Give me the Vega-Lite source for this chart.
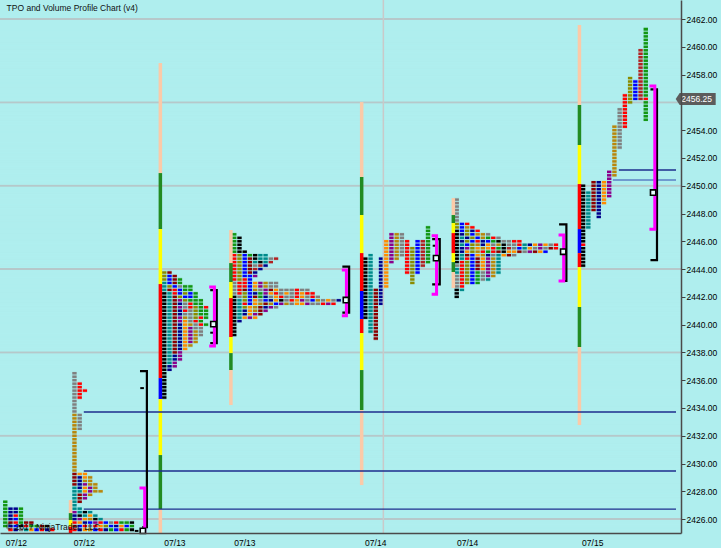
{
"$schema":"https://vega.github.io/schema/vega-lite/v6.json",
"width":681,"height":533,
"autosize":{"type":"none"},
"padding":{"left":0,"top":0,"right":40,"bottom":15},
"background":"#afeeee",
"config":{"view":{"stroke":null,"fill":"#afeeee"},"font":"Liberation Sans"},
"encoding":{"y":{"field":"y","type":"quantitative","scale":{"domain":[2425,2463.37],"nice":false,"zero":false},
  "axis":{"orient":"right","title":null,"values":[2426,2428,2430,2432,2434,2436,2438,2440,2442,2444,2446,2448,2450,2452,2454,2458,2460,2462],"format":".2f","grid":false,"labelFontSize":8.5,"labelFont":"Liberation Sans","labelColor":"#000000","tickSize":4,"tickColor":"#404040","tickWidth":1,"domainColor":"#4a4a4a","domainWidth":1.5,"labelPadding":1,"labelOverlap":false,"labelBound":false,"labelFlush":false,"zindex":1}}},
"datasets":{
"grid":[{"y":2426},{"y":2432},{"y":2438},{"y":2444},{"y":2450},{"y":2456},{"y":2462}],
"cells":[
{"x":0.05,"y":2427.375,"b":2425.375,"c":"e"},
{"x":1.05,"y":2426.875,"b":2425.875,"c":"n"},{"x":1.05,"y":2425.875,"b":2425.625,"c":"m"},{"x":1.05,"y":2425.625,"b":2425.375,"c":"n"},{"x":1.05,"y":2425.375,"b":2425.125,"c":"r"},
{"x":2.05,"y":2426.875,"b":2426.375,"c":"n"},{"x":2.05,"y":2426.375,"b":2426.125,"c":"r"},{"x":2.05,"y":2426.125,"b":2425.875,"c":"b"},{"x":2.05,"y":2425.875,"b":2425.625,"c":"r"},{"x":2.05,"y":2425.625,"b":2425.375,"c":"b"},{"x":2.05,"y":2425.375,"b":2425.125,"c":"n"},
{"x":3.05,"y":2426.875,"b":2425.625,"c":"e"},{"x":3.05,"y":2425.625,"b":2425.375,"c":"k"},{"x":3.05,"y":2425.375,"b":2425.125,"c":"y"},
{"x":4.05,"y":2425.875,"b":2425.625,"c":"m"},{"x":4.05,"y":2425.625,"b":2425.375,"c":"r"},{"x":4.05,"y":2425.375,"b":2425.125,"c":"t"},
{"x":5.05,"y":2425.875,"b":2425.625,"c":"m"},{"x":5.05,"y":2425.625,"b":2425.375,"c":"e"},{"x":5.05,"y":2425.375,"b":2425.125,"c":"o"},
{"x":6.05,"y":2425.625,"b":2425.375,"c":"e"},{"x":6.05,"y":2425.375,"b":2425.125,"c":"b"},
{"x":7.05,"y":2425.625,"b":2425.375,"c":"m"},{"x":7.05,"y":2425.375,"b":2425.125,"c":"r"},
{"x":8.05,"y":2425.625,"b":2425.375,"c":"k"},{"x":8.05,"y":2425.375,"b":2425.125,"c":"n"},
{"x":9.05,"y":2425.375,"b":2425.125,"c":"r"},

{"x":13.3,"y":2436.625,"b":2433.625,"c":"y"},{"x":13.3,"y":2433.625,"b":2429.375,"c":"g"},{"x":13.3,"y":2429.375,"b":2428.375,"c":"m"},{"x":13.3,"y":2428.375,"b":2426.625,"c":"t"},{"x":13.3,"y":2426.625,"b":2426.375,"c":"p"},{"x":13.3,"y":2426.375,"b":2425.875,"c":"n"},{"x":13.3,"y":2425.875,"b":2425.625,"c":"r"},{"x":13.3,"y":2425.625,"b":2425.375,"c":"m"},{"x":13.3,"y":2425.375,"b":2425.125,"c":"r"},
{"x":14.3,"y":2435.875,"b":2434.625,"c":"r"},{"x":14.3,"y":2433.625,"b":2432.375,"c":"y"},{"x":14.3,"y":2429.375,"b":2429.125,"c":"o"},{"x":14.3,"y":2429.125,"b":2428.125,"c":"n"},{"x":14.3,"y":2428.125,"b":2427.875,"c":"t"},{"x":14.3,"y":2427.875,"b":2427.125,"c":"m"},{"x":14.3,"y":2426.875,"b":2426.375,"c":"t"},{"x":14.3,"y":2426.375,"b":2426.125,"c":"k"},{"x":14.3,"y":2426.125,"b":2425.875,"c":"p"},{"x":14.3,"y":2425.875,"b":2425.625,"c":"o"},{"x":14.3,"y":2425.625,"b":2425.375,"c":"b"},{"x":14.3,"y":2425.375,"b":2425.125,"c":"n"},
{"x":15.3,"y":2435.375,"b":2435.125,"c":"r"},{"x":15.3,"y":2429.375,"b":2428.875,"c":"o"},{"x":15.3,"y":2428.875,"b":2428.625,"c":"g"},{"x":15.3,"y":2428.625,"b":2428.375,"c":"p"},{"x":15.3,"y":2428.375,"b":2427.875,"c":"o"},{"x":15.3,"y":2427.875,"b":2427.375,"c":"p"},{"x":15.3,"y":2426.625,"b":2426.375,"c":"k"},{"x":15.3,"y":2426.375,"b":2426.125,"c":"t"},{"x":15.3,"y":2426.125,"b":2425.875,"c":"o"},{"x":15.3,"y":2425.875,"b":2425.625,"c":"n"},{"x":15.3,"y":2425.625,"b":2425.375,"c":"r"},{"x":15.3,"y":2425.375,"b":2425.125,"c":"o"},
{"x":16.3,"y":2429.125,"b":2428.375,"c":"g"},{"x":16.3,"y":2428.375,"b":2427.875,"c":"p"},{"x":16.3,"y":2427.875,"b":2427.625,"c":"g"},{"x":16.3,"y":2426.625,"b":2426.375,"c":"t"},{"x":16.3,"y":2426.375,"b":2426.125,"c":"o"},{"x":16.3,"y":2426.125,"b":2425.875,"c":"g"},{"x":16.3,"y":2425.875,"b":2425.625,"c":"b"},{"x":16.3,"y":2425.625,"b":2425.375,"c":"y"},{"x":16.3,"y":2425.375,"b":2425.125,"c":"g"},
{"x":17.3,"y":2428.625,"b":2427.875,"c":"g"},{"x":17.3,"y":2426.375,"b":2426.125,"c":"t"},{"x":17.3,"y":2426.125,"b":2425.875,"c":"k"},{"x":17.3,"y":2425.875,"b":2425.625,"c":"p"},{"x":17.3,"y":2425.625,"b":2425.375,"c":"r"},{"x":17.3,"y":2425.375,"b":2425.125,"c":"b"},
{"x":18.3,"y":2428.125,"b":2427.875,"c":"g"},{"x":18.3,"y":2426.125,"b":2425.875,"c":"t"},{"x":18.3,"y":2425.875,"b":2425.625,"c":"r"},{"x":18.3,"y":2425.625,"b":2425.375,"c":"o"},{"x":18.3,"y":2425.375,"b":2425.125,"c":"r"},
{"x":19.3,"y":2425.875,"b":2425.625,"c":"b"},{"x":19.3,"y":2425.625,"b":2425.375,"c":"v"},{"x":19.3,"y":2425.375,"b":2425.125,"c":"n"},
{"x":20.3,"y":2425.875,"b":2425.625,"c":"y"},{"x":20.3,"y":2425.625,"b":2425.375,"c":"b"},{"x":20.3,"y":2425.375,"b":2425.125,"c":"e"},
{"x":21.3,"y":2425.875,"b":2425.625,"c":"r"},{"x":21.3,"y":2425.625,"b":2425.375,"c":"n"},{"x":21.3,"y":2425.375,"b":2425.125,"c":"b"},
{"x":22.3,"y":2425.875,"b":2425.625,"c":"e"},{"x":22.3,"y":2425.625,"b":2425.375,"c":"o"},{"x":22.3,"y":2425.375,"b":2425.125,"c":"r"},
{"x":23.3,"y":2425.875,"b":2425.625,"c":"e"},{"x":23.3,"y":2425.625,"b":2425.375,"c":"b"},{"x":23.3,"y":2425.375,"b":2425.125,"c":"e"},
{"x":24.3,"y":2425.875,"b":2425.625,"c":"k"},{"x":24.3,"y":2425.625,"b":2425.375,"c":"e"},{"x":24.3,"y":2425.375,"b":2425.125,"c":"k"},

{"x":30.5,"y":2443.875,"b":2443.125,"c":"v"},{"x":30.5,"y":2443.125,"b":2442.375,"c":"t"},{"x":30.5,"y":2442.375,"b":2434.625,"c":"k"},
{"x":31.5,"y":2443.875,"b":2443.625,"c":"m"},{"x":31.5,"y":2443.625,"b":2442.875,"c":"b"},{"x":31.5,"y":2442.875,"b":2442.625,"c":"v"},{"x":31.5,"y":2442.625,"b":2442.375,"c":"m"},{"x":31.5,"y":2442.375,"b":2437.125,"c":"t"},{"x":31.5,"y":2437.125,"b":2436.625,"c":"n"},
{"x":32.5,"y":2443.625,"b":2442.875,"c":"m"},{"x":32.5,"y":2442.875,"b":2442.625,"c":"b"},{"x":32.5,"y":2442.625,"b":2442.125,"c":"r"},{"x":32.5,"y":2442.125,"b":2437.875,"c":"m"},{"x":32.5,"y":2437.875,"b":2437.375,"c":"n"},{"x":32.5,"y":2437.375,"b":2436.875,"c":"p"},
{"x":33.5,"y":2443.375,"b":2442.875,"c":"e"},{"x":33.5,"y":2442.875,"b":2442.625,"c":"y"},{"x":33.5,"y":2442.625,"b":2442.125,"c":"b"},{"x":33.5,"y":2442.125,"b":2441.875,"c":"v"},{"x":33.5,"y":2441.875,"b":2441.625,"c":"p"},{"x":33.5,"y":2441.625,"b":2441.375,"c":"n"},{"x":33.5,"y":2441.375,"b":2441.125,"c":"p"},{"x":33.5,"y":2441.125,"b":2440.625,"c":"n"},{"x":33.5,"y":2440.625,"b":2440.125,"c":"p"},{"x":33.5,"y":2440.125,"b":2438.125,"c":"n"},{"x":33.5,"y":2438.125,"b":2437.375,"c":"p"},
{"x":34.5,"y":2442.875,"b":2442.375,"c":"e"},{"x":34.5,"y":2442.375,"b":2442.125,"c":"v"},{"x":34.5,"y":2442.125,"b":2441.875,"c":"b"},{"x":34.5,"y":2441.875,"b":2441.625,"c":"v"},{"x":34.5,"y":2441.625,"b":2441.125,"c":"y"},{"x":34.5,"y":2441.125,"b":2440.875,"c":"r"},{"x":34.5,"y":2440.875,"b":2440.625,"c":"y"},{"x":34.5,"y":2440.625,"b":2440.375,"c":"g"},{"x":34.5,"y":2440.375,"b":2438.125,"c":"o"},
{"x":35.5,"y":2442.875,"b":2442.375,"c":"e"},{"x":35.5,"y":2442.375,"b":2441.875,"c":"b"},{"x":35.5,"y":2441.875,"b":2441.625,"c":"e"},{"x":35.5,"y":2441.625,"b":2441.125,"c":"r"},{"x":35.5,"y":2441.125,"b":2440.125,"c":"y"},{"x":35.5,"y":2440.125,"b":2439.875,"c":"g"},{"x":35.5,"y":2439.875,"b":2438.625,"c":"p"},{"x":35.5,"y":2438.625,"b":2438.375,"c":"g"},
{"x":36.5,"y":2442.375,"b":2441.375,"c":"e"},{"x":36.5,"y":2441.375,"b":2440.375,"c":"v"},{"x":36.5,"y":2440.375,"b":2440.125,"c":"r"},{"x":36.5,"y":2440.125,"b":2439.625,"c":"y"},{"x":36.5,"y":2439.625,"b":2438.625,"c":"g"},
{"x":37.5,"y":2441.875,"b":2440.625,"c":"e"},{"x":37.5,"y":2440.625,"b":2440.375,"c":"r"},{"x":37.5,"y":2440.375,"b":2440.125,"c":"e"},{"x":37.5,"y":2440.125,"b":2439.875,"c":"r"},{"x":37.5,"y":2439.875,"b":2439.125,"c":"y"},
{"x":38.5,"y":2441.375,"b":2441.125,"c":"r"},{"x":38.5,"y":2441.125,"b":2440.375,"c":"e"},{"x":38.5,"y":2440.125,"b":2439.875,"c":"e"},

{"x":43.9,"y":2446.625,"b":2445.125,"c":"e"},{"x":43.9,"y":2445.125,"b":2443.125,"c":"r"},{"x":43.9,"y":2443.125,"b":2442.125,"c":"y"},{"x":43.9,"y":2442.125,"b":2439.125,"c":"k"},
{"x":44.9,"y":2446.375,"b":2445.125,"c":"k"},{"x":44.9,"y":2445.125,"b":2443.125,"c":"v"},{"x":44.9,"y":2443.125,"b":2442.125,"c":"r"},{"x":44.9,"y":2442.125,"b":2441.875,"c":"y"},{"x":44.9,"y":2441.875,"b":2440.375,"c":"t"},{"x":44.9,"y":2440.375,"b":2440.125,"c":"n"},
{"x":45.9,"y":2445.375,"b":2445.125,"c":"k"},{"x":45.9,"y":2445.125,"b":2443.375,"c":"b"},{"x":45.9,"y":2443.375,"b":2442.625,"c":"r"},{"x":45.9,"y":2442.625,"b":2442.375,"c":"m"},{"x":45.9,"y":2442.375,"b":2441.625,"c":"v"},{"x":45.9,"y":2441.625,"b":2441.375,"c":"r"},{"x":45.9,"y":2441.375,"b":2441.125,"c":"v"},{"x":45.9,"y":2441.125,"b":2440.625,"c":"n"},{"x":45.9,"y":2440.625,"b":2440.375,"c":"o"},
{"x":46.9,"y":2445.125,"b":2444.875,"c":"e"},{"x":46.9,"y":2444.875,"b":2443.625,"c":"m"},{"x":46.9,"y":2443.625,"b":2441.375,"c":"b"},{"x":46.9,"y":2441.375,"b":2440.625,"c":"o"},{"x":46.9,"y":2440.625,"b":2440.375,"c":"p"},
{"x":47.9,"y":2445.125,"b":2444.625,"c":"k"},{"x":47.9,"y":2444.625,"b":2444.375,"c":"t"},{"x":47.9,"y":2444.375,"b":2444.125,"c":"y"},{"x":47.9,"y":2444.125,"b":2443.875,"c":"f"},{"x":47.9,"y":2443.875,"b":2443.625,"c":"n"},{"x":47.9,"y":2443.625,"b":2443.375,"c":"p"},{"x":47.9,"y":2443.125,"b":2442.625,"c":"o"},{"x":47.9,"y":2442.625,"b":2442.375,"c":"g"},{"x":47.9,"y":2442.375,"b":2442.125,"c":"n"},{"x":47.9,"y":2442.125,"b":2441.875,"c":"m"},{"x":47.9,"y":2441.875,"b":2441.375,"c":"o"},{"x":47.9,"y":2441.375,"b":2440.875,"c":"g"},{"x":47.9,"y":2440.875,"b":2440.625,"c":"p"},{"x":47.9,"y":2440.625,"b":2440.375,"c":"o"},
{"x":48.9,"y":2445.125,"b":2444.625,"c":"t"},{"x":48.9,"y":2444.625,"b":2444.375,"c":"k"},{"x":48.9,"y":2444.375,"b":2444.125,"c":"f"},{"x":48.9,"y":2444.125,"b":2443.875,"c":"n"},{"x":48.9,"y":2443.125,"b":2442.625,"c":"p"},{"x":48.9,"y":2442.625,"b":2442.375,"c":"y"},{"x":48.9,"y":2442.375,"b":2441.875,"c":"e"},{"x":48.9,"y":2441.875,"b":2441.625,"c":"y"},{"x":48.9,"y":2441.625,"b":2441.375,"c":"g"},{"x":48.9,"y":2441.375,"b":2440.625,"c":"m"},
{"x":49.9,"y":2445.125,"b":2444.375,"c":"t"},{"x":49.9,"y":2444.375,"b":2444.125,"c":"n"},{"x":49.9,"y":2443.125,"b":2442.625,"c":"g"},{"x":49.9,"y":2442.625,"b":2442.125,"c":"p"},{"x":49.9,"y":2442.125,"b":2441.875,"c":"n"},{"x":49.9,"y":2441.875,"b":2441.625,"c":"b"},{"x":49.9,"y":2441.625,"b":2441.375,"c":"m"},{"x":49.9,"y":2441.375,"b":2441.125,"c":"n"},{"x":49.9,"y":2441.125,"b":2440.875,"c":"p"},
{"x":50.9,"y":2444.875,"b":2444.625,"c":"y"},{"x":50.9,"y":2444.625,"b":2444.375,"c":"f"},{"x":50.9,"y":2443.125,"b":2442.625,"c":"y"},{"x":50.9,"y":2442.625,"b":2442.375,"c":"m"},{"x":50.9,"y":2442.375,"b":2442.125,"c":"o"},{"x":50.9,"y":2442.125,"b":2441.875,"c":"y"},{"x":50.9,"y":2441.875,"b":2441.625,"c":"n"},{"x":50.9,"y":2441.625,"b":2441.375,"c":"g"},{"x":50.9,"y":2441.375,"b":2441.125,"c":"p"},
{"x":51.9,"y":2444.875,"b":2444.625,"c":"f"},{"x":51.9,"y":2443.125,"b":2442.625,"c":"y"},{"x":51.9,"y":2442.625,"b":2442.375,"c":"o"},{"x":51.9,"y":2442.375,"b":2442.125,"c":"r"},{"x":51.9,"y":2442.125,"b":2441.625,"c":"o"},{"x":51.9,"y":2441.625,"b":2441.375,"c":"b"},{"x":51.9,"y":2441.375,"b":2441.125,"c":"y"},
{"x":52.9,"y":2442.625,"b":2442.125,"c":"y"},{"x":52.9,"y":2442.125,"b":2441.875,"c":"r"},{"x":52.9,"y":2441.875,"b":2441.625,"c":"k"},{"x":52.9,"y":2441.625,"b":2441.375,"c":"p"},
{"x":53.9,"y":2442.625,"b":2442.375,"c":"y"},{"x":53.9,"y":2442.375,"b":2442.125,"c":"o"},{"x":53.9,"y":2442.125,"b":2441.625,"c":"y"},{"x":53.9,"y":2441.625,"b":2441.375,"c":"g"},
{"x":54.9,"y":2442.625,"b":2441.875,"c":"y"},{"x":54.9,"y":2441.875,"b":2441.625,"c":"r"},{"x":54.9,"y":2441.625,"b":2441.375,"c":"y"},
{"x":55.9,"y":2442.625,"b":2441.875,"c":"r"},{"x":55.9,"y":2441.875,"b":2441.375,"c":"o"},
{"x":56.9,"y":2442.625,"b":2442.375,"c":"y"},{"x":56.9,"y":2442.375,"b":2441.875,"c":"o"},{"x":56.9,"y":2441.875,"b":2441.625,"c":"p"},{"x":56.9,"y":2441.625,"b":2441.375,"c":"o"},
{"x":57.9,"y":2442.625,"b":2442.375,"c":"y"},{"x":57.9,"y":2442.375,"b":2442.125,"c":"r"},{"x":57.9,"y":2442.125,"b":2441.625,"c":"y"},{"x":57.9,"y":2441.625,"b":2441.375,"c":"p"},
{"x":58.9,"y":2442.375,"b":2441.875,"c":"r"},{"x":58.9,"y":2441.875,"b":2441.625,"c":"b"},{"x":58.9,"y":2441.625,"b":2441.375,"c":"y"},
{"x":59.9,"y":2442.125,"b":2441.875,"c":"y"},{"x":59.9,"y":2441.875,"b":2441.625,"c":"g"},{"x":59.9,"y":2441.625,"b":2441.375,"c":"y"},
{"x":60.9,"y":2441.875,"b":2441.625,"c":"y"},{"x":60.9,"y":2441.625,"b":2441.375,"c":"r"},
{"x":61.9,"y":2441.875,"b":2441.625,"c":"o"},{"x":61.9,"y":2441.625,"b":2441.375,"c":"p"},
{"x":62.9,"y":2441.875,"b":2441.625,"c":"y"},{"x":62.9,"y":2441.625,"b":2441.375,"c":"r"},
{"x":63.9,"y":2441.875,"b":2441.625,"c":"n"},

{"x":69,"y":2444.875,"b":2440.375,"c":"k"},
{"x":70,"y":2445.125,"b":2439.375,"c":"t"},
{"x":71,"y":2442.625,"b":2438.875,"c":"m"},
{"x":72,"y":2444.875,"b":2441.375,"c":"n"},
{"x":73,"y":2446.125,"b":2442.625,"c":"o"},
{"x":74,"y":2446.625,"b":2444.375,"c":"p"},
{"x":75,"y":2446.625,"b":2444.625,"c":"g"},
{"x":76,"y":2446.625,"b":2444.875,"c":"y"},
{"x":77,"y":2446.125,"b":2443.625,"c":"r"},
{"x":78,"y":2445.625,"b":2442.875,"c":"v"},
{"x":79,"y":2446.125,"b":2443.625,"c":"b"},
{"x":80,"y":2446.125,"b":2444.125,"c":"f"},
{"x":81,"y":2447.125,"b":2444.375,"c":"e"},

{"x":86.5,"y":2449.125,"b":2447.375,"c":"y"},{"x":86.5,"y":2447.375,"b":2446.875,"c":"v"},{"x":86.5,"y":2446.875,"b":2444.375,"c":"k"},{"x":86.5,"y":2444.375,"b":2444.125,"c":"y"},{"x":86.5,"y":2444.125,"b":2443.625,"c":"t"},{"x":86.5,"y":2443.625,"b":2442.625,"c":"y"},{"x":86.5,"y":2442.625,"b":2441.875,"c":"k"},
{"x":87.5,"y":2447.375,"b":2446.625,"c":"b"},{"x":87.5,"y":2446.625,"b":2446.375,"c":"n"},{"x":87.5,"y":2446.375,"b":2446.125,"c":"t"},{"x":87.5,"y":2446.125,"b":2445.875,"c":"n"},{"x":87.5,"y":2445.875,"b":2445.625,"c":"t"},{"x":87.5,"y":2445.625,"b":2445.125,"c":"n"},{"x":87.5,"y":2445.125,"b":2444.625,"c":"t"},{"x":87.5,"y":2444.625,"b":2442.625,"c":"r"},{"x":87.5,"y":2442.625,"b":2442.375,"c":"t"},
{"x":88.5,"y":2447.375,"b":2447.125,"c":"r"},{"x":88.5,"y":2447.125,"b":2446.875,"c":"g"},{"x":88.5,"y":2446.875,"b":2446.375,"c":"v"},{"x":88.5,"y":2446.375,"b":2446.125,"c":"n"},{"x":88.5,"y":2446.125,"b":2445.875,"c":"v"},{"x":88.5,"y":2445.875,"b":2445.625,"c":"b"},{"x":88.5,"y":2445.625,"b":2445.375,"c":"p"},{"x":88.5,"y":2445.375,"b":2445.125,"c":"o"},{"x":88.5,"y":2445.125,"b":2444.875,"c":"m"},{"x":88.5,"y":2444.875,"b":2444.625,"c":"r"},{"x":88.5,"y":2444.625,"b":2442.875,"c":"v"},
{"x":89.5,"y":2447.125,"b":2446.875,"c":"r"},{"x":89.5,"y":2446.875,"b":2446.625,"c":"n"},{"x":89.5,"y":2446.625,"b":2446.375,"c":"b"},{"x":89.5,"y":2446.375,"b":2446.125,"c":"v"},{"x":89.5,"y":2446.125,"b":2445.875,"c":"b"},{"x":89.5,"y":2445.875,"b":2445.125,"c":"v"},{"x":89.5,"y":2445.125,"b":2442.875,"c":"b"},
{"x":90.5,"y":2446.875,"b":2446.625,"c":"r"},{"x":90.5,"y":2446.625,"b":2446.375,"c":"g"},{"x":90.5,"y":2446.375,"b":2446.125,"c":"b"},{"x":90.5,"y":2446.125,"b":2445.875,"c":"r"},{"x":90.5,"y":2445.875,"b":2445.625,"c":"g"},{"x":90.5,"y":2445.625,"b":2445.375,"c":"o"},{"x":90.5,"y":2445.375,"b":2445.125,"c":"g"},{"x":90.5,"y":2445.125,"b":2444.875,"c":"o"},{"x":90.5,"y":2444.875,"b":2443.875,"c":"m"},{"x":90.5,"y":2443.875,"b":2442.875,"c":"e"},
{"x":91.5,"y":2446.625,"b":2446.125,"c":"g"},{"x":91.5,"y":2446.125,"b":2445.625,"c":"n"},{"x":91.5,"y":2445.625,"b":2445.375,"c":"g"},{"x":91.5,"y":2445.375,"b":2445.125,"c":"r"},{"x":91.5,"y":2445.125,"b":2444.875,"c":"g"},{"x":91.5,"y":2444.875,"b":2443.875,"c":"o"},{"x":91.5,"y":2443.875,"b":2443.125,"c":"y"},
{"x":92.5,"y":2446.625,"b":2446.375,"c":"y"},{"x":92.5,"y":2446.375,"b":2446.125,"c":"e"},{"x":92.5,"y":2446.125,"b":2445.875,"c":"b"},{"x":92.5,"y":2445.875,"b":2445.375,"c":"o"},{"x":92.5,"y":2445.375,"b":2445.125,"c":"e"},{"x":92.5,"y":2445.125,"b":2444.875,"c":"n"},{"x":92.5,"y":2444.875,"b":2443.375,"c":"p"},{"x":92.5,"y":2443.375,"b":2443.125,"c":"t"},
{"x":93.5,"y":2446.375,"b":2446.125,"c":"r"},{"x":93.5,"y":2446.125,"b":2445.875,"c":"e"},{"x":93.5,"y":2445.875,"b":2445.625,"c":"y"},{"x":93.5,"y":2445.625,"b":2445.125,"c":"r"},{"x":93.5,"y":2445.125,"b":2444.875,"c":"y"},{"x":93.5,"y":2444.875,"b":2443.375,"c":"g"},
{"x":94.5,"y":2446.375,"b":2446.125,"c":"y"},{"x":94.5,"y":2446.125,"b":2445.875,"c":"k"},{"x":94.5,"y":2445.875,"b":2445.625,"c":"g"},{"x":94.5,"y":2445.625,"b":2445.375,"c":"e"},{"x":94.5,"y":2445.375,"b":2445.125,"c":"m"},{"x":94.5,"y":2445.125,"b":2443.625,"c":"t"},
{"x":95.5,"y":2446.125,"b":2445.875,"c":"y"},{"x":95.5,"y":2445.875,"b":2445.125,"c":"k"},{"x":95.5,"y":2445.125,"b":2444.875,"c":"o"},
{"x":96.5,"y":2446.125,"b":2445.625,"c":"y"},{"x":96.5,"y":2445.625,"b":2445.375,"c":"f"},{"x":96.5,"y":2445.375,"b":2445.125,"c":"o"},{"x":96.5,"y":2445.125,"b":2444.875,"c":"m"},
{"x":97.5,"y":2446.125,"b":2445.875,"c":"r"},{"x":97.5,"y":2445.875,"b":2445.375,"c":"y"},{"x":97.5,"y":2445.375,"b":2445.125,"c":"o"},{"x":97.5,"y":2445.125,"b":2444.875,"c":"y"},
{"x":98.5,"y":2446.125,"b":2445.625,"c":"r"},{"x":98.5,"y":2445.625,"b":2445.375,"c":"b"},{"x":98.5,"y":2445.375,"b":2445.125,"c":"m"},
{"x":99.5,"y":2445.875,"b":2445.375,"c":"t"},{"x":99.5,"y":2445.375,"b":2445.125,"c":"y"},
{"x":100.5,"y":2445.875,"b":2445.625,"c":"n"},{"x":100.5,"y":2445.625,"b":2445.375,"c":"o"},{"x":100.5,"y":2445.375,"b":2445.125,"c":"p"},
{"x":101.5,"y":2445.875,"b":2445.625,"c":"o"},{"x":101.5,"y":2445.625,"b":2445.375,"c":"y"},{"x":101.5,"y":2445.375,"b":2445.125,"c":"m"},
{"x":102.5,"y":2445.875,"b":2445.375,"c":"p"},{"x":102.5,"y":2445.375,"b":2445.125,"c":"o"},
{"x":103.5,"y":2445.875,"b":2445.625,"c":"o"},{"x":103.5,"y":2445.625,"b":2445.375,"c":"y"},{"x":103.5,"y":2445.375,"b":2445.125,"c":"b"},
{"x":104.5,"y":2445.875,"b":2445.625,"c":"y"},{"x":104.5,"y":2445.625,"b":2445.375,"c":"m"},
{"x":105.5,"y":2445.875,"b":2445.375,"c":"r"},

{"x":110.7,"y":2450.125,"b":2445.875,"c":"k"},{"x":110.7,"y":2445.875,"b":2445.625,"c":"r"},{"x":110.7,"y":2445.625,"b":2444.125,"c":"k"},
{"x":111.7,"y":2449.625,"b":2446.875,"c":"t"},
{"x":112.7,"y":2450.375,"b":2448.125,"c":"m"},
{"x":113.7,"y":2450.375,"b":2447.625,"c":"n"},
{"x":114.7,"y":2450.375,"b":2448.625,"c":"o"},
{"x":115.7,"y":2451.125,"b":2449.125,"c":"p"},
{"x":116.7,"y":2454.375,"b":2450.625,"c":"g"},
{"x":117.7,"y":2455.625,"b":2452.625,"c":"y"},
{"x":118.7,"y":2456.625,"b":2454.125,"c":"r"},
{"x":119.7,"y":2457.875,"b":2455.875,"c":"v"},
{"x":120.7,"y":2457.625,"b":2456.125,"c":"b"},
{"x":121.7,"y":2459.875,"b":2456.125,"c":"f"},
{"x":122.7,"y":2461.375,"b":2456.375,"c":"e"},{"x":122.7,"y":2456.375,"b":2456.125,"c":"r"},{"x":122.7,"y":2456.125,"b":2454.625,"c":"e"}
],
"sep":[{"y":2425.375},{"y":2425.625},{"y":2425.875},{"y":2426.125},{"y":2426.375},{"y":2426.625},{"y":2426.875},{"y":2427.125},{"y":2427.375},{"y":2427.625},{"y":2427.875},{"y":2428.125},{"y":2428.375},{"y":2428.625},{"y":2428.875},{"y":2429.125},{"y":2429.375},{"y":2429.625},{"y":2429.875},{"y":2430.125},{"y":2430.375},{"y":2430.625},{"y":2430.875},{"y":2431.125},{"y":2431.375},{"y":2431.625},{"y":2431.875},{"y":2432.125},{"y":2432.375},{"y":2432.625},{"y":2432.875},{"y":2433.125},{"y":2433.375},{"y":2433.625},{"y":2433.875},{"y":2434.125},{"y":2434.375},{"y":2434.625},{"y":2434.875},{"y":2435.125},{"y":2435.375},{"y":2435.625},{"y":2435.875},{"y":2436.125},{"y":2436.375},{"y":2436.625},{"y":2436.875},{"y":2437.125},{"y":2437.375},{"y":2437.625},{"y":2437.875},{"y":2438.125},{"y":2438.375},{"y":2438.625},{"y":2438.875},{"y":2439.125},{"y":2439.375},{"y":2439.625},{"y":2439.875},{"y":2440.125},{"y":2440.375},{"y":2440.625},{"y":2440.875},{"y":2441.125},{"y":2441.375},{"y":2441.625},{"y":2441.875},{"y":2442.125},{"y":2442.375},{"y":2442.625},{"y":2442.875},{"y":2443.125},{"y":2443.375},{"y":2443.625},{"y":2443.875},{"y":2444.125},{"y":2444.375},{"y":2444.625},{"y":2444.875},{"y":2445.125},{"y":2445.375},{"y":2445.625},{"y":2445.875},{"y":2446.125},{"y":2446.375},{"y":2446.625},{"y":2446.875},{"y":2447.125},{"y":2447.375},{"y":2447.625},{"y":2447.875},{"y":2448.125},{"y":2448.375},{"y":2448.625},{"y":2448.875},{"y":2449.125},{"y":2449.375},{"y":2449.625},{"y":2449.875},{"y":2450.125},{"y":2450.375},{"y":2450.625},{"y":2450.875},{"y":2451.125},{"y":2451.375},{"y":2451.625},{"y":2451.875},{"y":2452.125},{"y":2452.375},{"y":2452.625},{"y":2452.875},{"y":2453.125},{"y":2453.375},{"y":2453.625},{"y":2453.875},{"y":2454.125},{"y":2454.375},{"y":2454.625},{"y":2454.875},{"y":2455.125},{"y":2455.375},{"y":2455.625},{"y":2455.875},{"y":2456.125},{"y":2456.375},{"y":2456.625},{"y":2456.875},{"y":2457.125},{"y":2457.375},{"y":2457.625},{"y":2457.875},{"y":2458.125},{"y":2458.375},{"y":2458.625},{"y":2458.875},{"y":2459.125},{"y":2459.375},{"y":2459.625},{"y":2459.875},{"y":2460.125},{"y":2460.375},{"y":2460.625},{"y":2460.875},{"y":2461.125}],
"sess":[
{"x":12.55,"y":2427.37,"b":2426.43,"c":"P"},{"x":12.55,"y":2426.43,"b":2425.93,"c":"G"},{"x":12.55,"y":2425.93,"b":2425.45,"c":"Y"},{"x":12.55,"y":2425.45,"b":2425.0,"c":"R"},
{"x":29.75,"y":2458.83,"b":2450.91,"c":"P"},{"x":29.75,"y":2450.91,"b":2446.88,"c":"G"},{"x":29.75,"y":2446.88,"b":2442.92,"c":"Y"},{"x":29.75,"y":2442.92,"b":2436.15,"c":"R"},{"x":29.75,"y":2436.15,"b":2434.64,"c":"B"},{"x":29.75,"y":2434.64,"b":2430.61,"c":"Y"},{"x":29.75,"y":2430.61,"b":2426.72,"c":"G"},{"x":29.75,"y":2426.72,"b":2425.0,"c":"P"},
{"x":43.26,"y":2446.81,"b":2444.43,"c":"P"},{"x":43.26,"y":2444.43,"b":2443.07,"c":"G"},{"x":43.26,"y":2443.07,"b":2441.91,"c":"Y"},{"x":43.26,"y":2441.91,"b":2439.11,"c":"R"},{"x":43.26,"y":2439.11,"b":2437.95,"c":"Y"},{"x":43.26,"y":2437.95,"b":2436.73,"c":"G"},{"x":43.26,"y":2436.73,"b":2434.21,"c":"P"},
{"x":68.3,"y":2456.02,"b":2450.63,"c":"P"},{"x":68.3,"y":2450.63,"b":2447.89,"c":"G"},{"x":68.3,"y":2447.89,"b":2445.15,"c":"Y"},{"x":68.3,"y":2445.15,"b":2442.42,"c":"R"},{"x":68.3,"y":2442.42,"b":2440.4,"c":"B"},{"x":68.3,"y":2440.4,"b":2439.39,"c":"R"},{"x":68.3,"y":2439.39,"b":2436.73,"c":"Y"},{"x":68.3,"y":2436.73,"b":2433.85,"c":"G"},{"x":68.3,"y":2433.85,"b":2428.45,"c":"P"},
{"x":85.85,"y":2449.11,"b":2447.89,"c":"P"},{"x":85.85,"y":2447.89,"b":2447.31,"c":"G"},{"x":85.85,"y":2447.31,"b":2446.59,"c":"Y"},{"x":85.85,"y":2446.59,"b":2445.15,"c":"R"},{"x":85.85,"y":2445.15,"b":2444.5,"c":"Y"},{"x":85.85,"y":2444.5,"b":2443.79,"c":"G"},{"x":85.85,"y":2443.79,"b":2442.63,"c":"P"},
{"x":110.0,"y":2461.57,"b":2455.81,"c":"P"},{"x":110.0,"y":2455.81,"b":2452.93,"c":"G"},{"x":110.0,"y":2452.93,"b":2450.12,"c":"Y"},{"x":110.0,"y":2450.12,"b":2446.88,"c":"R"},{"x":110.0,"y":2446.88,"b":2445.15,"c":"B"},{"x":110.0,"y":2445.15,"b":2444.14,"c":"R"},{"x":110.0,"y":2444.14,"b":2441.27,"c":"Y"},{"x":110.0,"y":2441.27,"b":2438.39,"c":"G"},{"x":110.0,"y":2438.39,"b":2432.77,"c":"P"}
],
"npoc":[
{"y":2433.71,"x":15.09,"x2":128.49,"c":"N"},{"y":2429.46,"x":15.09,"x2":128.49,"c":"N"},{"y":2426.72,"x":15.09,"x2":128.49,"c":"N"},{"y":2451.13,"x":117.55,"x2":128.49,"c":"N"},{"y":2450.41,"x":116.4,"x2":128.49,"c":"L"}
],
"rg":[
{"id":"a","o":1,"x":25.85,"y":2436.66},{"id":"a","o":2,"x":27.17,"y":2436.66},{"id":"a","o":3,"x":27.17,"y":2425.43},{"id":"a","o":4,"x":26.3,"y":2425.43},
{"id":"b","o":1,"x":39.3,"y":2442.49},{"id":"b","o":2,"x":40.55,"y":2442.49},{"id":"b","o":3,"x":40.55,"y":2438.67},{"id":"b","o":4,"x":39.3,"y":2438.67},
{"id":"c","o":1,"x":64.6,"y":2444.17},{"id":"c","o":2,"x":65.9,"y":2444.17},{"id":"c","o":3,"x":65.9,"y":2440.86},{"id":"c","o":4,"x":64.6,"y":2440.86},
{"id":"d","o":1,"x":81.8,"y":2446.16},{"id":"d","o":2,"x":83.25,"y":2446.16},{"id":"d","o":3,"x":83.25,"y":2442.9},{"id":"d","o":4,"x":81.8,"y":2442.9},
{"id":"e","o":1,"x":106.1,"y":2447.22},{"id":"e","o":2,"x":107.5,"y":2447.22},{"id":"e","o":3,"x":107.5,"y":2443.14},{"id":"e","o":4,"x":106.1,"y":2443.14},
{"id":"f","o":1,"x":123.6,"y":2456.94},{"id":"f","o":2,"x":124.85,"y":2456.94},{"id":"f","o":3,"x":124.85,"y":2444.65},{"id":"f","o":4,"x":123.6,"y":2444.65}
],
"va":[
{"id":"a","o":1,"x":25.75,"y":2428.24},{"id":"a","o":2,"x":26.75,"y":2428.24},{"id":"a","o":3,"x":26.75,"y":2425.0},
{"id":"b","o":1,"x":39.1,"y":2442.71},{"id":"b","o":2,"x":40.1,"y":2442.71},{"id":"b","o":3,"x":40.1,"y":2438.46},{"id":"b","o":4,"x":39.1,"y":2438.46},
{"id":"c","o":1,"x":64.5,"y":2443.93},{"id":"c","o":2,"x":65.38,"y":2443.93},{"id":"c","o":3,"x":65.38,"y":2440.64},{"id":"c","o":4,"x":64.5,"y":2440.64},
{"id":"d","o":1,"x":81.7,"y":2446.4},{"id":"d","o":2,"x":82.64,"y":2446.4},{"id":"d","o":3,"x":82.64,"y":2442.18},{"id":"d","o":4,"x":81.7,"y":2442.18},
{"id":"e","o":1,"x":106.0,"y":2446.45},{"id":"e","o":2,"x":106.98,"y":2446.45},{"id":"e","o":3,"x":106.98,"y":2443.14},{"id":"e","o":4,"x":106.0,"y":2443.14},
{"id":"f","o":1,"x":123.4,"y":2457.18},{"id":"f","o":2,"x":124.43,"y":2457.18},{"id":"f","o":3,"x":124.43,"y":2446.86},{"id":"f","o":4,"x":123.4,"y":2446.86}
],
"ticks":[{"x":25.9,"x2":26.6,"y":2435.43},{"x":39.3,"x2":39.95,"y":2439.42},{"x":81.9,"x2":82.5,"y":2445.68},{"x":24.85,"x2":25.55,"y":2425.15}],
"poc":[{"x":26.4,"y":2425.15},{"x":39.9,"y":2440.04},{"x":65.28,"y":2441.77},{"x":82.55,"y":2444.79},{"x":106.89,"y":2445.25},{"x":124.11,"y":2449.51}],
"last":[{"x":132.26,"tx":132.45,"y":2456.25,"s":"2456.25"}],
"txt":[{"x":0.3,"y":2462.8,"s":"TPO and Volume Profile Chart (v4)"},{"x":0.2,"y":2425.45,"s":"© 2017 NinjaTrader, LLC"}]
},
"layer":[
{"data":{"name":"grid"},"mark":{"type":"rule","color":"#b6c8ca","strokeWidth":2},"encoding":{}},
{"data":{"name":"cells"},"mark":{"type":"bar","width":4.4},
 "encoding":{"x":{"field":"x","type":"quantitative","scale":{"domain":[0,128.49],"nice":false,"zero":false},
  "axis":{"orient":"bottom","title":null,"values":[2.1,15.1,32.45,45.85,70.9,88.5,112.45],"labelExpr":"datum.value < 20 ? '07/12' : datum.value < 60 ? '07/13' : datum.value < 100 ? '07/14' : '07/15'","grid":false,"ticks":false,"domainColor":"#4a4a4a","domainWidth":1.5,"labelFontSize":8.5,"labelFont":"Liberation Sans","labelColor":"#000000","labelPadding":5,"labelOverlap":false,"labelBound":false,"labelFlush":false,"zindex":1}},
  "y2":{"field":"b"},
  "color":{"field":"c","type":"nominal","legend":null,"scale":{"domain":["k","t","m","n","o","p","g","y","r","v","b","f","e","P","G","Y","R","B","N","L"],"range":["#000000","#008b8b","#8b0000","#00008b","#ff8c00","#8b008b","#b8860b","#808080","#ff0000","#8b8b00","#0000ff","#b22222","#129612","#fbcaa8","#228b22","#ffff00","#ff0000","#0000ff","#1c2c8c","#5b7fc4"]}}}},
{"data":{"name":"sep"},"mark":{"type":"rule","color":"#afeeee","strokeWidth":0.9},"encoding":{}},
{"data":{"values":[{"x":72.45}]},"mark":{"type":"rule","color":"#c9c9c9","strokeWidth":1.5},
 "encoding":{"x":{"field":"x","type":"quantitative","title":null,"scale":{"domain":[0,128.49],"nice":false,"zero":false}},"y":null}},
{"data":{"name":"sess"},"mark":{"type":"rule","strokeWidth":3.5},
 "encoding":{"x":{"field":"x","type":"quantitative","title":null,"scale":{"domain":[0,128.49],"nice":false,"zero":false}},
  "y2":{"field":"b"},
  "color":{"field":"c","type":"nominal","legend":null,"scale":{"domain":["k","t","m","n","o","p","g","y","r","v","b","f","e","P","G","Y","R","B","N","L"],"range":["#000000","#008b8b","#8b0000","#00008b","#ff8c00","#8b008b","#b8860b","#808080","#ff0000","#8b8b00","#0000ff","#b22222","#129612","#fbcaa8","#228b22","#ffff00","#ff0000","#0000ff","#1c2c8c","#5b7fc4"]}}}},
{"data":{"name":"npoc"},"mark":{"type":"rule","strokeWidth":1.4},
 "encoding":{"x":{"field":"x","type":"quantitative","title":null,"scale":{"domain":[0,128.49],"nice":false,"zero":false}},"x2":{"field":"x2"},
  "color":{"field":"c","type":"nominal","legend":null,"scale":{"domain":["k","t","m","n","o","p","g","y","r","v","b","f","e","P","G","Y","R","B","N","L"],"range":["#000000","#008b8b","#8b0000","#00008b","#ff8c00","#8b008b","#b8860b","#808080","#ff0000","#8b8b00","#0000ff","#b22222","#129612","#fbcaa8","#228b22","#ffff00","#ff0000","#0000ff","#1c2c8c","#5b7fc4"]}}}},
{"data":{"name":"rg"},"mark":{"type":"line","color":"#000000","strokeWidth":2.2,"strokeJoin":"miter","strokeCap":"butt"},
 "encoding":{"x":{"field":"x","type":"quantitative","title":null,"scale":{"domain":[0,128.49],"nice":false,"zero":false}},
  "detail":{"field":"id"},"order":{"field":"o"}}},
{"data":{"name":"ticks"},"mark":{"type":"rule","color":"#000000","strokeWidth":2},
 "encoding":{"x":{"field":"x","type":"quantitative","title":null,"scale":{"domain":[0,128.49],"nice":false,"zero":false}},"x2":{"field":"x2"}}},
{"data":{"name":"va"},"mark":{"type":"line","color":"#ff00ff","strokeWidth":3,"strokeJoin":"miter","strokeCap":"butt"},
 "encoding":{"x":{"field":"x","type":"quantitative","title":null,"scale":{"domain":[0,128.49],"nice":false,"zero":false}},
  "detail":{"field":"id"},"order":{"field":"o"}}},
{"data":{"name":"poc"},"mark":{"type":"point","shape":"square","size":28,"filled":false,"stroke":"#000000","fill":"#e8ffff","fillOpacity":1,"strokeWidth":1.6,"opacity":1},
 "encoding":{"x":{"field":"x","type":"quantitative","title":null,"scale":{"domain":[0,128.49],"nice":false,"zero":false}}}},
{"data":{"name":"last"},"mark":{"type":"point","shape":"M-1,0L-0.8,-0.3H1V0.3H-0.8Z","size":1600,"filled":true,"color":"#5c5c5c","opacity":1},
 "encoding":{"x":{"field":"x","type":"quantitative","title":null,"scale":{"domain":[0,128.49],"nice":false,"zero":false}}}},
{"data":{"name":"last"},"mark":{"type":"text","color":"#ffffff","fontSize":8.5,"font":"Liberation Sans","align":"center","baseline":"middle"},
 "encoding":{"x":{"field":"tx","type":"quantitative","title":null,"scale":{"domain":[0,128.49],"nice":false,"zero":false}},"text":{"field":"s"}}},
{"data":{"name":"txt"},"mark":{"type":"text","color":"#111111","fontSize":8.5,"font":"Liberation Sans","align":"left","baseline":"middle"},
 "encoding":{"x":{"field":"x","type":"quantitative","title":null,"scale":{"domain":[0,128.49],"nice":false,"zero":false}},"text":{"field":"s"}}}
]
}
